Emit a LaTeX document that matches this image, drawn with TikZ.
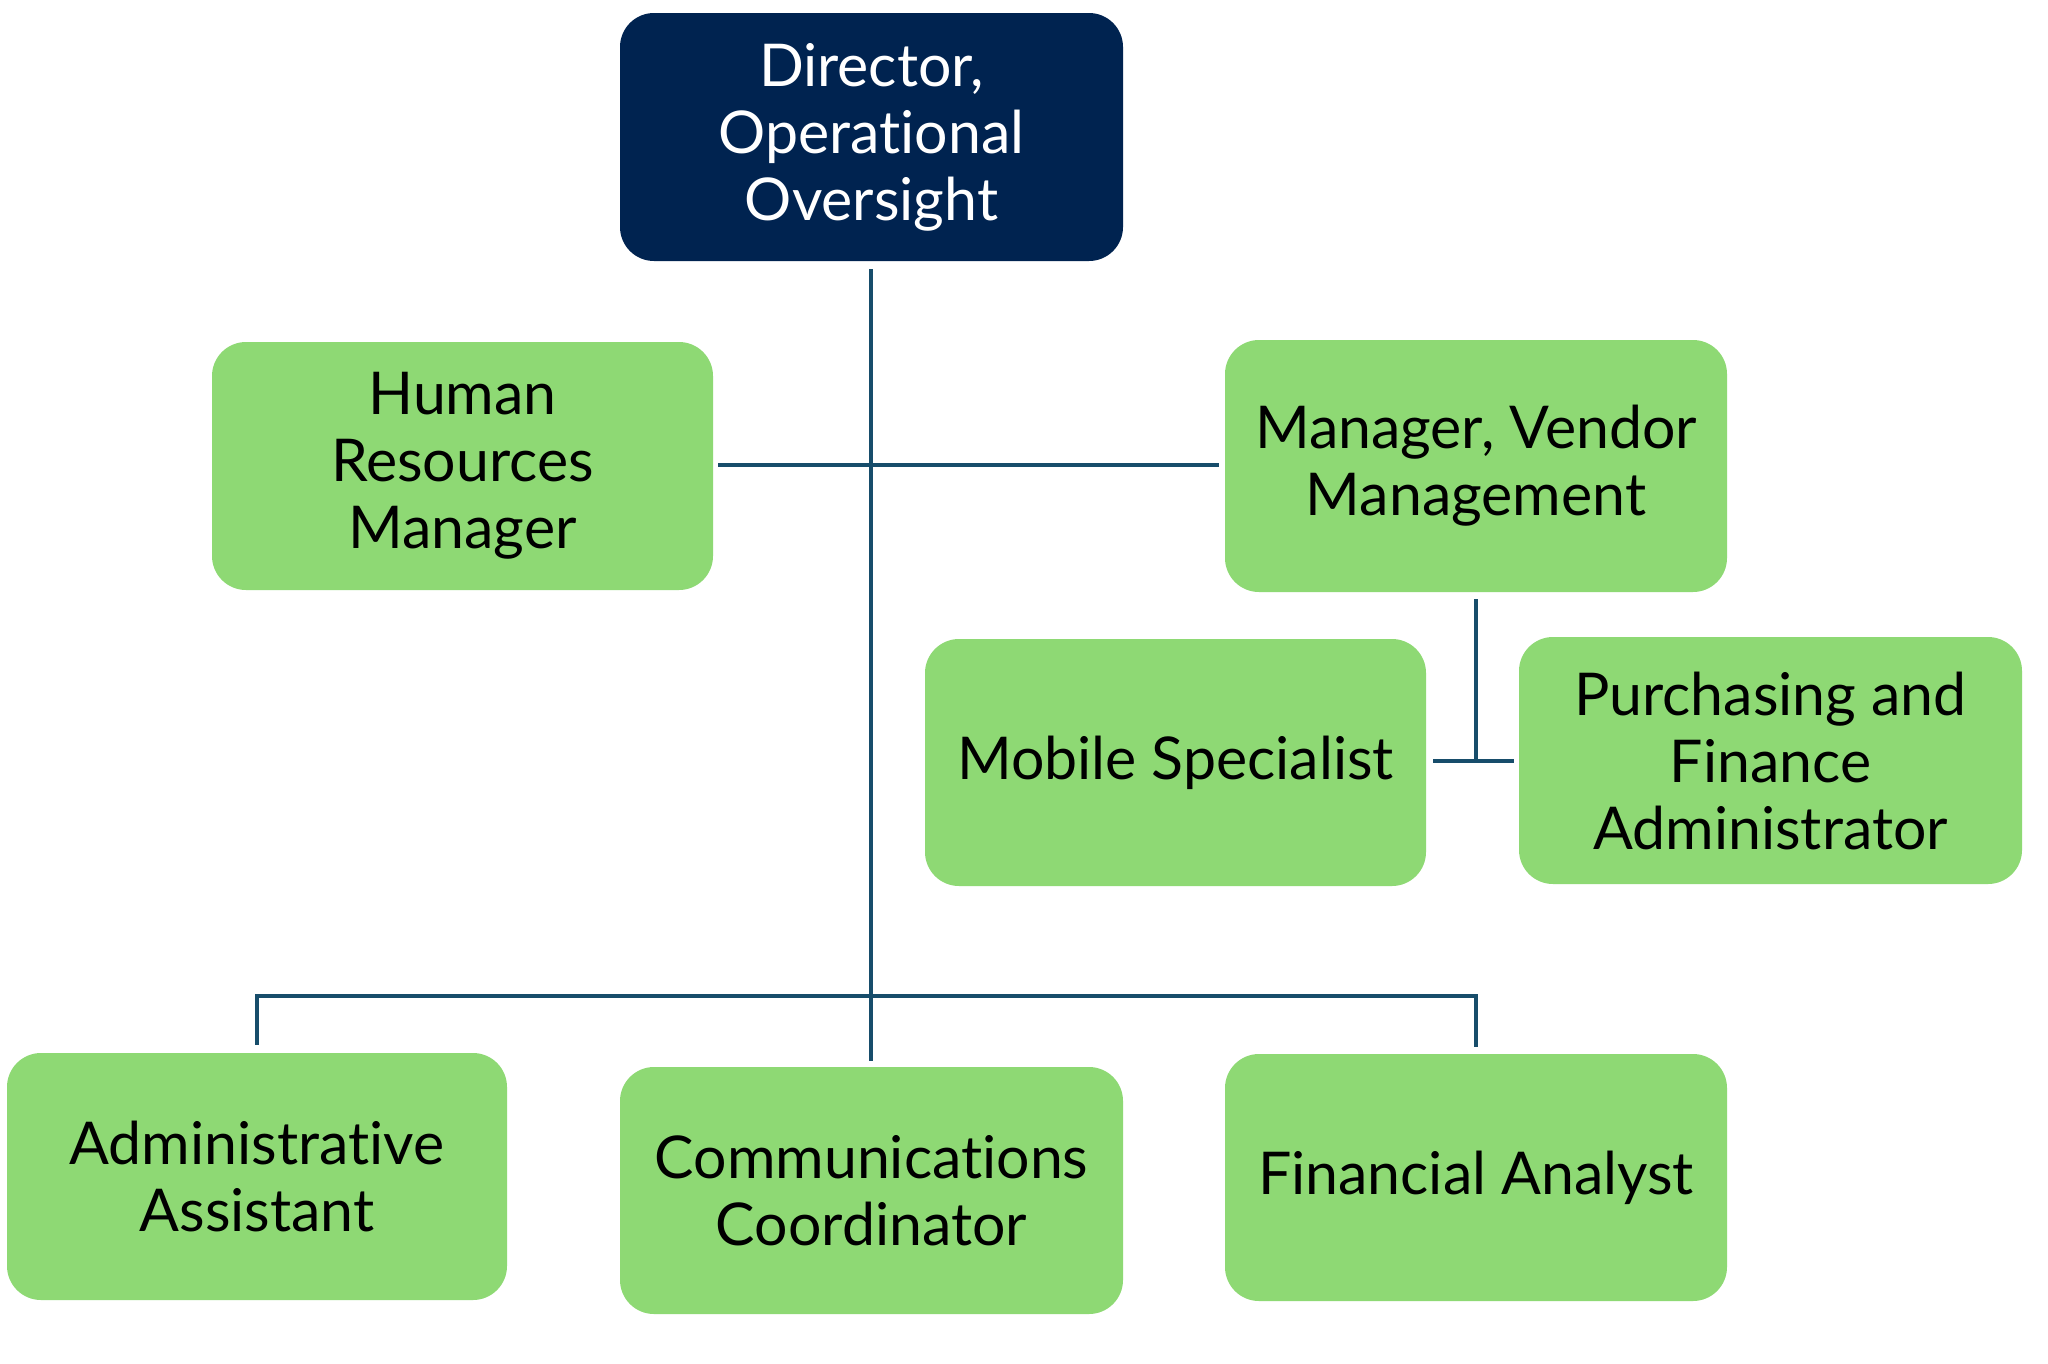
\documentclass[tikz,border=0pt]{standalone}
\usepackage{fontspec}
\setmainfont[RawFeature={-liga;-dlig;-clig;-calt;-hlig}]{Lato}
\definecolor{navy}{HTML}{002350}
\definecolor{leaf}{HTML}{8ED974}
\definecolor{wire}{HTML}{174D6B}
\begin{document}
\begin{tikzpicture}[x=1pt,y=-1pt,
  box/.style={draw=none,fill=leaf,rounded corners=34pt,inner sep=0pt,align=center,
    font=\fontsize{59}{67}\selectfont,text=black},
  topbox/.style={box,fill=navy,text=white},
  link/.style={draw=wire,line width=4pt}]
\useasboundingbox (0,0) rectangle (2048,1363);
\fill[white] (0,0) rectangle (2048,1363);
\node[topbox,minimum width=503pt,minimum height=248pt] (dir) at (871.5,137) {Director,\\Operational\\Oversight};
\node[box,minimum width=501pt,minimum height=248pt] (hr) at (462.5,466) {Human\\Resources\\Manager};
\node[box,minimum width=502pt,minimum height=252pt] (vend) at (1476,466) {Manager, Vendor\\Management};
\node[box,minimum width=501pt,minimum height=247pt] (mob) at (1175.5,762.5) {Mobile Specialist};
\node[box,minimum width=503pt,minimum height=247pt] (pur) at (1770.5,760.5) {Purchasing and\\Finance\\Administrator};
\node[box,minimum width=500pt,minimum height=247pt] (adm) at (257,1176.5) {Administrative\\Assistant};
\node[box,minimum width=503pt,minimum height=247pt] (com) at (871.5,1190.5) {Communications\\Coordinator};
\node[box,minimum width=502pt,minimum height=247pt] (fin) at (1476,1177.5) {Financial Analyst};
\coordinate (top) at (871,269);
\coordinate (hubA) at (871,465);
\coordinate (hubB) at (871,996);
\coordinate (vdown) at (1476,761);
% main trunk
\draw[link] (top) -- ([yshift=6pt]com.north -| top);
% HR - Vendor bar
\draw[link] ([xshift=5pt]hr.east |- hubA) -- ([xshift=-6pt]vend.west |- hubA);
% vendor to mobile and purchasing
\draw[link] ([yshift=-7pt]vend.south) -- (vdown);
\draw[link] ([xshift=7pt]mob.east |- vdown) -- ([xshift=-5pt]pur.west |- vdown);
% bottom bus
\draw[link] ([yshift=8pt]adm.north) -- (adm.north |- hubB) -- (fin.north |- hubB) -- ([yshift=7pt]fin.north);
\end{tikzpicture}
\end{document}
